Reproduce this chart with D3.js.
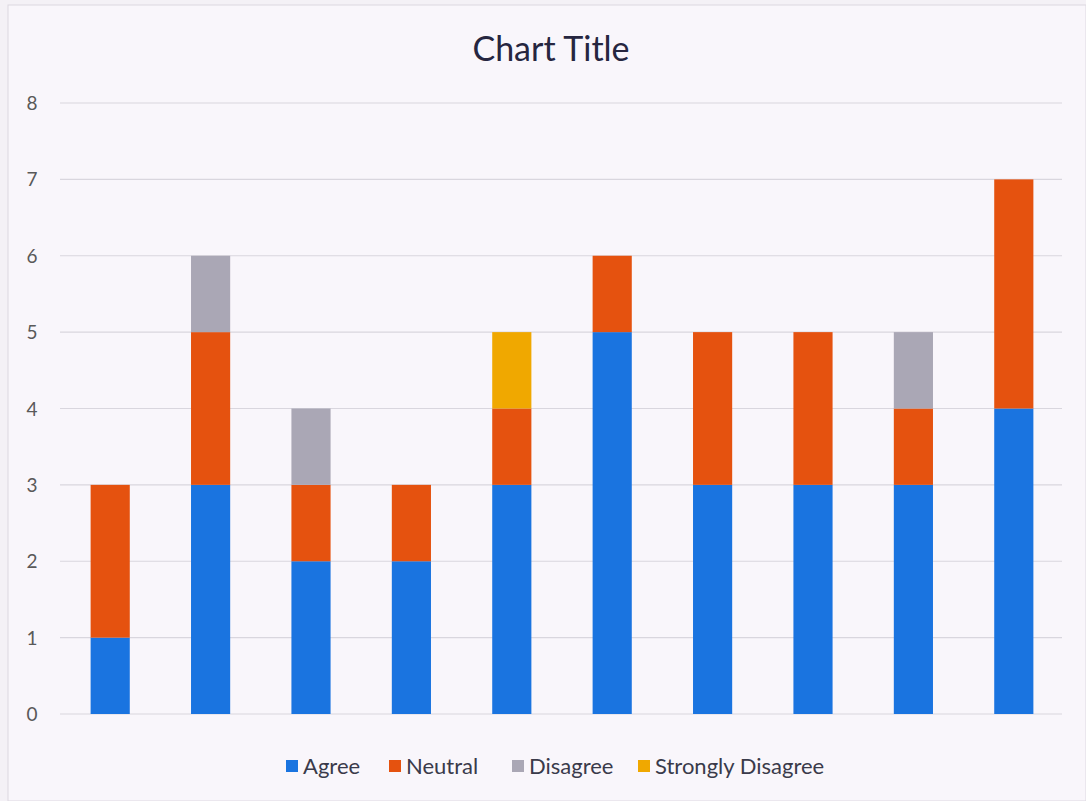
<!DOCTYPE html>
<html><head><meta charset="utf-8">
<script src="https://cdn.jsdelivr.net/npm/d3@7"></script>
<style>body{margin:0;background:#f4f1f6;}svg{display:block;}</style>
</head><body>
<svg id="c" width="1086" height="801"></svg>
<script>
const categories = ["1","2","3","4","5","6","7","8","9","10"];
const seriesNames = ["Agree","Neutral","Disagree","Strongly Disagree"];
const agree = [1,3,2,2,3,5,3,3,3,4];
const neutral = [2,2,1,1,1,1,2,2,1,3];
const disagree = [0,1,1,0,0,0,0,0,1,0];
const stronglyDisagree = [0,0,0,0,1,0,0,0,0,0];
const yTicks = [0,1,2,3,4,5,6,7,8];
const colors = ["#1a74e0","#e5520f","#aaa7b5","#f0a800"];

const rows = categories.map((c,i)=>({cat:c,"Agree":agree[i],"Neutral":neutral[i],"Disagree":disagree[i],"Strongly Disagree":stronglyDisagree[i]}));
const svg = d3.select("#c");
svg.append("rect").attr("x",8).attr("y",5).attr("width",1078).attr("height",796).attr("fill","#f9f6fb").attr("stroke","#dcd8e0");

const x = d3.scaleBand().domain(categories).range([60,1064]).paddingInner(0.61).paddingOuter(0.305);
const y = d3.scaleLinear().domain([0,8]).range([714,103]);

svg.append("g").selectAll("line").data(yTicks).join("line")
  .attr("x1",60).attr("x2",1062).attr("y1",d=>y(d)).attr("y2",d=>y(d))
  .attr("stroke","#d9d6de").attr("stroke-width",1.2);
svg.append("g").selectAll("text").data(yTicks).join("text")
  .attr("x",32).attr("y",d=>y(d)+7).attr("text-anchor","middle")
  .attr("font-family","Lato, 'Open Sans', sans-serif").attr("font-size",19).attr("fill","#595959").text(d=>d);

const stack = d3.stack().keys(seriesNames)(rows);
const color = d3.scaleOrdinal().domain(seriesNames).range(colors);
svg.append("g").selectAll("g").data(stack).join("g").attr("fill",d=>color(d.key))
  .selectAll("rect").data(d=>d).join("rect")
  .attr("x",d=>x(d.data.cat)).attr("width",x.bandwidth())
  .attr("y",d=>y(d[1])).attr("height",d=>y(d[0])-y(d[1]));

svg.append("text").attr("x",551).attr("y",61).attr("text-anchor","middle")
  .attr("font-family","Lato, 'Open Sans', sans-serif").attr("font-size",34).attr("fill","#262640").text("Chart Title");

const legX = [286,389,512,638];
const lg = svg.append("g").selectAll("g").data(seriesNames).join("g")
  .attr("transform",(d,i)=>`translate(${legX[i]},766)`);
lg.append("rect").attr("x",0).attr("y",-6).attr("width",12).attr("height",12).attr("fill",d=>color(d));
lg.append("text").attr("x",17).attr("y",8).attr("font-family","Lato, 'Open Sans', sans-serif")
  .attr("font-size",22).attr("fill","#3a3a4a").text(d=>d);
</script>
</body></html>
